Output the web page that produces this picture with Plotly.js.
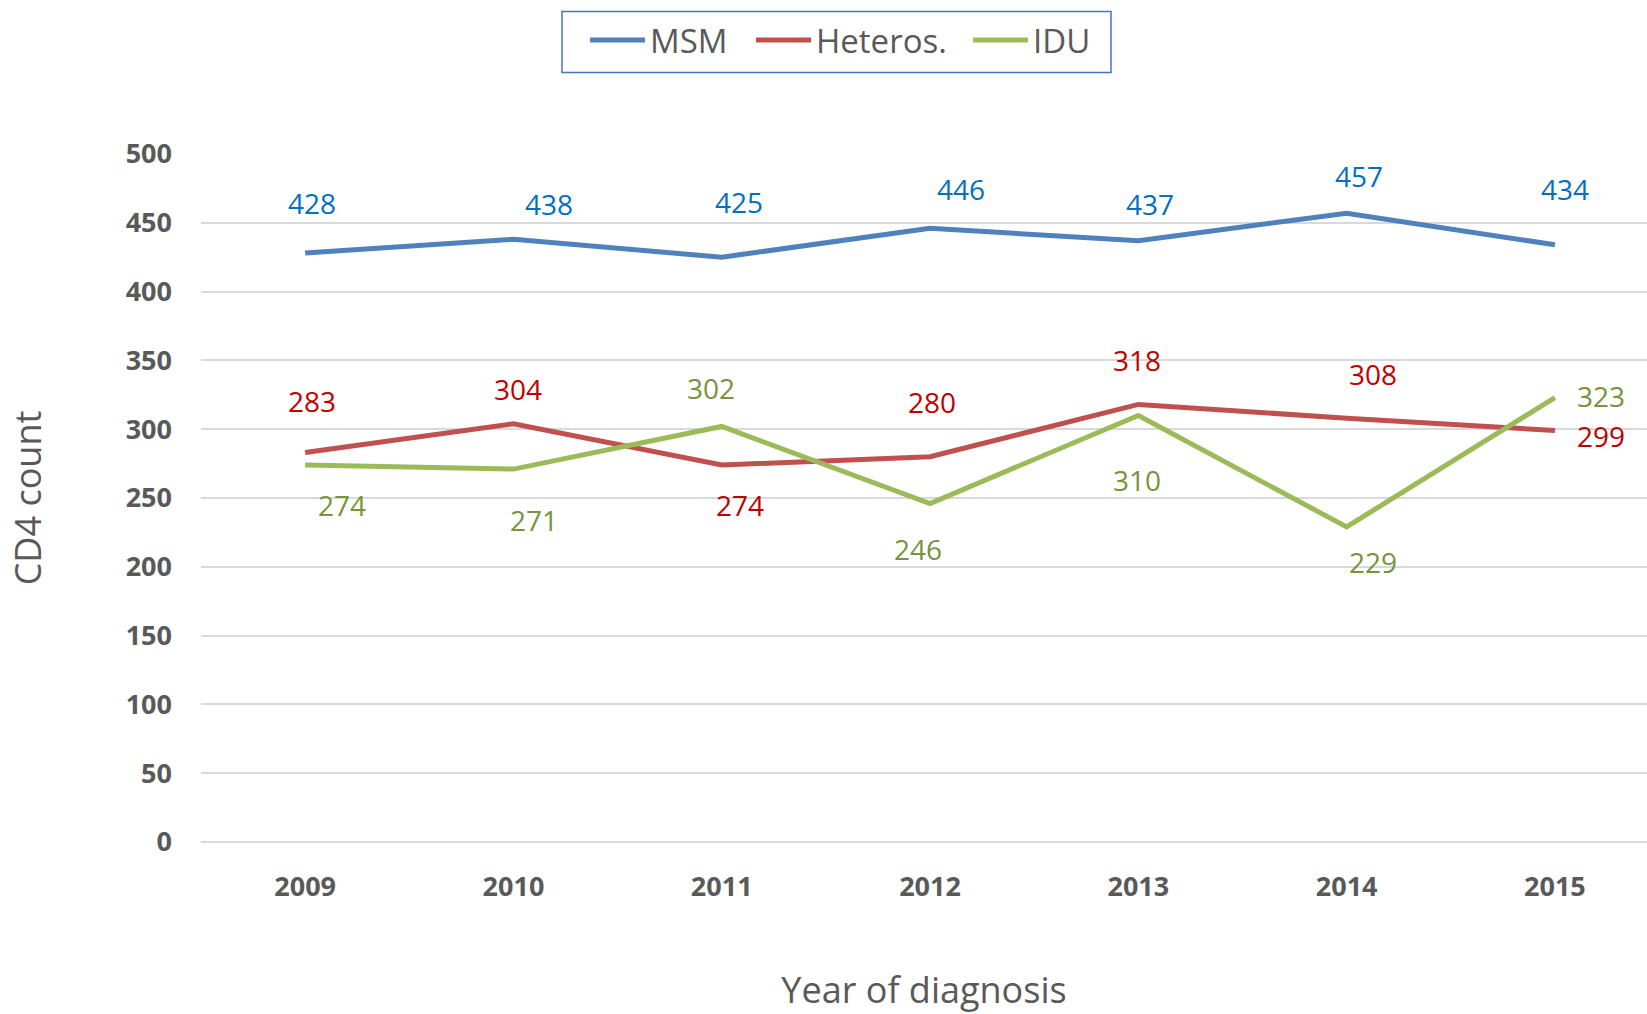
<!DOCTYPE html>
<html>
<head>
<meta charset="utf-8">
<script src="https://cdn.plot.ly/plotly-3.0.1.min.js"></script>
<style>
  html, body { margin: 0; padding: 0; background: #ffffff; }
  #chart { width: 1647px; height: 1014px; }
</style>
</head>
<body>
<div id="chart"></div>
<script>
// ---- data ----
const years = ['2009', '2010', '2011', '2012', '2013', '2014', '2015'];
const msm = [428, 438, 425, 446, 437, 457, 434];
const heteros = [283, 304, 274, 280, 318, 308, 299];
const idu = [274, 271, 302, 246, 310, 229, 323];
const seriesNames = ['MSM', 'Heteros.', 'IDU'];
const yTicks = [0, 50, 100, 150, 200, 250, 300, 350, 400, 450, 500];

// ---- label offsets (pixels, relative to point; +dy = down) ----
const msmDx = [7, 36, 17, 31, 12, 12, 10];
const msmDy = [-50, -35, -55, -39, -37, -37, -56];
const hetDx = [7, 5, 18, 2, -1, 26, 46];
const hetDy = [-52, -35, 40, -55, -44, -44, 5];
const iduDx = [37, 21, -11, -12, -1, 26, 46];
const iduDy = [40, 51, -38, 45, 65, 35, -2];

const lineColors = ['#4f81bd', '#c0504d', '#9bbb59'];
const labelColors = ['#0070c0', '#c00000', '#77933c'];
const fontFam = '"Open Sans", "Noto Sans", sans-serif';

// legend item left positions (px from page left) and legend box
const legendIds = ['legend', 'legend2', 'legend3'];
const legendLeftPx = [585, 751, 968];
const W = 1647, H = 1014;
const M = { l: 201, r: 0, t: 154, b: 172 };
const plotW = W - M.l - M.r, plotH = H - M.t - M.b;
const boxPx = { x0: 562, x1: 1111, y0: 11.5, y1: 72.5 };

const allSeries = [msm, heteros, idu];
const traces = allSeries.map((vals, i) => ({
  type: 'scatter',
  mode: 'lines',
  name: seriesNames[i],
  legend: legendIds[i],
  x: years,
  y: vals,
  line: { color: lineColors[i], width: 5 },
  hoverinfo: 'x+y'
}));

const offsets = [[msmDx, msmDy], [hetDx, hetDy], [iduDx, iduDy]];
const annotations = [];
allSeries.forEach((vals, i) => {
  vals.forEach((v, j) => {
    annotations.push({
      x: j, y: v, xref: 'x', yref: 'y',
      text: String(v),
      showarrow: false,
      xanchor: 'center', yanchor: 'middle',
      borderpad: 0,
      xshift: offsets[i][0][j],
      yshift: -offsets[i][1][j],
      font: { family: fontFam, size: 28, color: labelColors[i] }
    });
  });
});

const layout = {
  width: W,
  height: H,
  paper_bgcolor: '#ffffff',
  plot_bgcolor: '#ffffff',
  margin: M,
  showlegend: true,
  xaxis: {
    type: 'category',
    categoryorder: 'array',
    categoryarray: years,
    range: [-0.5, 6.442],
    showgrid: false,
    zeroline: false,
    showline: false,
    ticks: '',
    ticklabelstandoff: 26,
    tickfont: { family: fontFam, size: 27, color: '#595959', weight: 'bold' },
    title: {
      text: 'Year of diagnosis',
      font: { family: fontFam, size: 36, color: '#595959' },
      standoff: 81
    },
    automargin: false
  },
  yaxis: {
    range: [0, 500],
    tickvals: yTicks,
    ticktext: yTicks.map(String),
    showgrid: true,
    gridcolor: '#d9d9d9',
    gridwidth: 2,
    zeroline: true,
    zerolinecolor: '#d9d9d9',
    zerolinewidth: 2,
    showline: false,
    ticks: '',
    ticklabelstandoff: 28,
    tickfont: { family: fontFam, size: 27, color: '#595959', weight: 'bold' },
    title: {
      text: 'CD4 count',
      font: { family: fontFam, size: 36, color: '#595959' },
      standoff: 73
    },
    automargin: false
  },
  shapes: [{
    type: 'rect', xref: 'paper', yref: 'paper', layer: 'above',
    x0: (boxPx.x0 - M.l) / plotW, x1: (boxPx.x1 - M.l) / plotW,
    y0: (H - M.b - boxPx.y1) / plotH, y1: (H - M.b - boxPx.y0) / plotH,
    line: { color: '#4472c4', width: 1.5 },
    fillcolor: 'rgba(0,0,0,0)'
  }],
  annotations: annotations
};

legendIds.forEach((id, i) => {
  layout[id] = {
    orientation: 'h',
    xref: 'container', yref: 'container',
    x: legendLeftPx[i] / W, xanchor: 'left',
    y: 0.988, yanchor: 'top',
    borderwidth: 0,
    bgcolor: 'rgba(0,0,0,0)',
    font: { family: fontFam, size: 33, color: '#595959' },
    itemwidth: 55
  };
});

Plotly.newPlot('chart', traces, layout, { displayModeBar: false, responsive: false });
</script>
</body>
</html>
